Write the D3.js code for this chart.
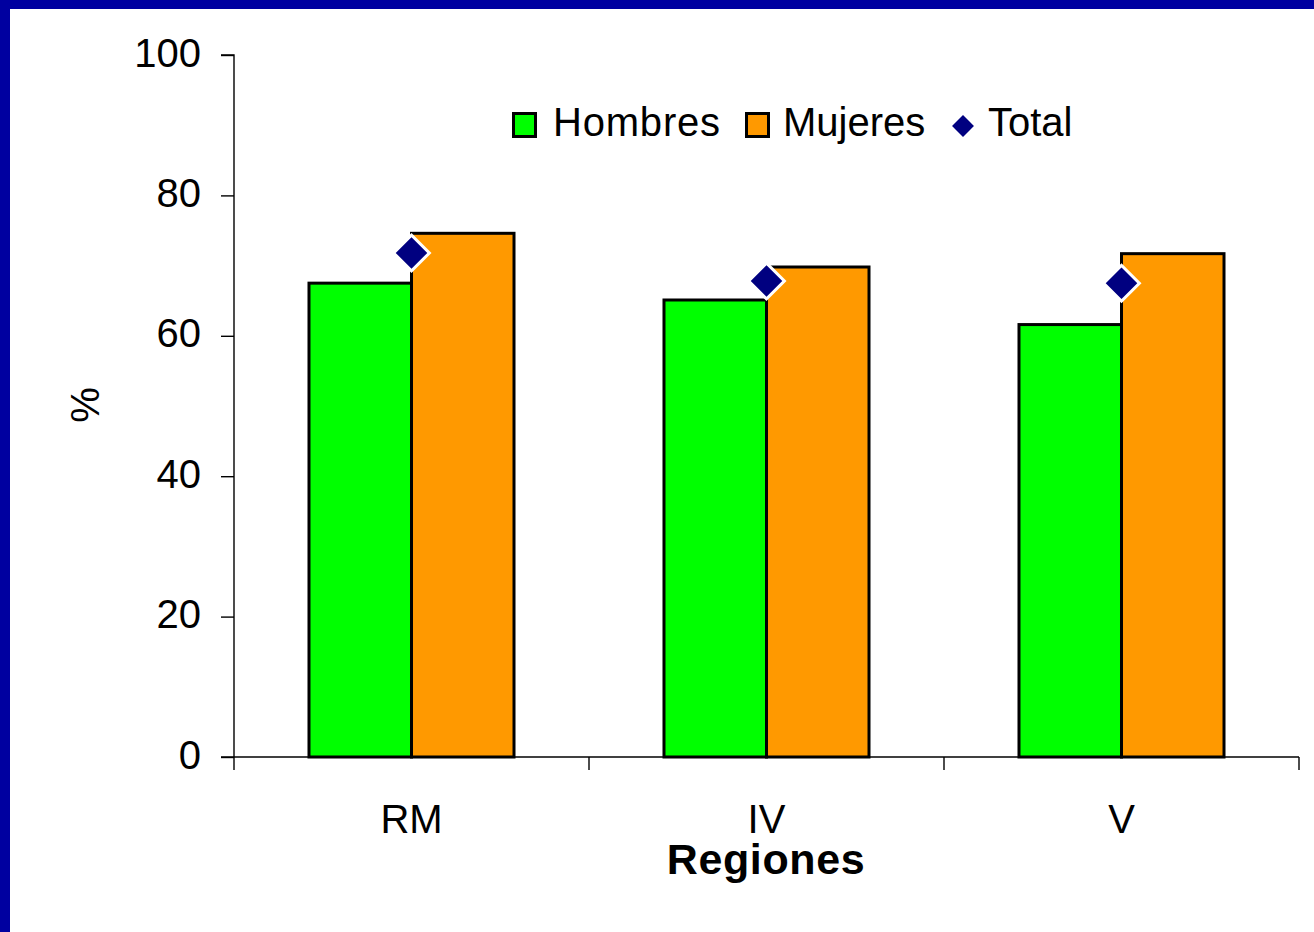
<!DOCTYPE html>
<html>
<head>
<meta charset="utf-8">
<script src="https://cdn.jsdelivr.net/npm/d3@7/dist/d3.min.js"></script>
<style>
  html, body { margin: 0; padding: 0; background: #fff; }
  svg { display: block; }
  text { font-family: "Liberation Sans", Arial, sans-serif; fill: #000; }
</style>
</head>
<body>
<svg id="chart" width="1314" height="932"></svg>
<script>
const categories = ["RM", "IV", "V"];
const seriesNames = ["Hombres", "Mujeres"];
const hombres = [67.5, 65.1, 61.6];
const mujeres = [74.6, 69.8, 71.7];
const total = [71.8, 67.8, 67.5];
const yTicks = [0, 20, 40, 60, 80, 100];
const colors = { Hombres: "#00FF00", Mujeres: "#FF9900", Total: "#000080" };

const svg = d3.select("#chart");

// frame border (top and left)
svg.append("rect").attr("x", 0).attr("y", 0).attr("width", 1314).attr("height", 9).attr("fill", "#0000A0");
svg.append("rect").attr("x", 0).attr("y", 0).attr("width", 10).attr("height", 932).attr("fill", "#0000A0");

const x0 = 234, x1 = 1299, yTop = 55, yBot = 757;
const y = d3.scaleLinear().domain([0, 100]).range([yBot, yTop]);
const x = d3.scaleBand().domain(categories).range([x0, x1]).paddingInner(0.4225).paddingOuter(0.21125);
const xs = d3.scaleBand().domain(seriesNames).range([0, x.bandwidth()]);

const data = categories.map((c, i) => ({ cat: c, Hombres: hombres[i], Mujeres: mujeres[i], Total: total[i] }));

// bars
const g = svg.append("g");
data.forEach(d => {
  seriesNames.forEach(s => {
    g.append("rect")
      .attr("x", x(d.cat) + xs(s))
      .attr("y", y(d[s]))
      .attr("width", xs.bandwidth())
      .attr("height", y(0) - y(d[s]))
      .attr("fill", colors[s])
      .attr("stroke", "#000")
      .attr("stroke-width", 3);
  });
});

// axes
const yAxis = d3.axisLeft(y).tickValues(yTicks).tickSize(13).tickPadding(20).tickFormat(d3.format("d"));
const ya = svg.append("g").attr("transform", `translate(${x0},0)`).call(yAxis);
ya.select(".domain").attr("stroke", "#000").attr("stroke-width", 1.4).attr("d", `M-13,${yTop}H0V${yBot}`);
ya.selectAll(".tick line").attr("stroke", "#000").attr("stroke-width", 1.4);
ya.selectAll(".tick text").attr("font-size", 40).attr("font-family", "Liberation Sans, Arial, sans-serif")
  .attr("dy", null).attr("y", 11).attr("x", -33).attr("fill", "#000");

const xa = svg.append("g").attr("transform", `translate(0,${yBot})`);
xa.append("line").attr("x1", x0 - 13).attr("x2", x1).attr("y1", 0).attr("y2", 0).attr("stroke", "#000").attr("stroke-width", 1.4);
const boundaries = categories.map(c => x(c) - x.step() * x.paddingOuter()).concat([x1]);
xa.selectAll(".bt").data(boundaries).join("line")
  .attr("x1", d => d).attr("x2", d => d).attr("y1", 0).attr("y2", 13)
  .attr("stroke", "#000").attr("stroke-width", 1.4);
xa.selectAll(".cl").data(categories).join("text")
  .attr("x", d => x(d) + x.bandwidth() / 2).attr("y", 76)
  .attr("text-anchor", "middle").attr("font-size", 40).text(d => d);

// total markers
const diamond = d3.symbol().type(d3.symbolSquare).size(640);
svg.append("g").selectAll("path").data(data).join("path")
  .attr("d", diamond)
  .attr("transform", d => `translate(${x(d.cat) + x.bandwidth() / 2},${y(d.Total)}) rotate(45)`)
  .attr("fill", colors.Total).attr("stroke", "#fff").attr("stroke-width", 3);

// axis titles
svg.append("text").attr("x", 766).attr("y", 874).attr("text-anchor", "middle")
  .attr("font-size", 43).attr("font-weight", "bold").attr("letter-spacing", 0.6).text("Regiones");
svg.append("text").attr("transform", "translate(99,405) rotate(-90)").attr("text-anchor", "middle")
  .attr("font-size", 40).text("%");

// legend
const leg = svg.append("g");
const legItems = [
  { name: "Hombres", type: "rect", sx: 512, tx: 553 },
  { name: "Mujeres", type: "rect", sx: 745, tx: 783 },
  { name: "Total", type: "diamond", sx: 963, tx: 988 }
];
legItems.forEach(it => {
  if (it.type === "rect") {
    leg.append("rect").attr("x", it.sx + 1.5).attr("y", 113.5).attr("width", 22).attr("height", 23)
      .attr("fill", colors[it.name]).attr("stroke", "#000").attr("stroke-width", 3);
  } else {
    leg.append("path").attr("d", d3.symbol().type(d3.symbolSquare).size(240))
      .attr("transform", `translate(${it.sx},126) rotate(45)`).attr("fill", colors.Total);
  }
  leg.append("text").attr("x", it.tx).attr("y", 136).attr("font-size", 40)
    .attr("letter-spacing", it.name === "Hombres" ? 0.8 : 0).text(it.name);
});
</script>
</body>
</html>
